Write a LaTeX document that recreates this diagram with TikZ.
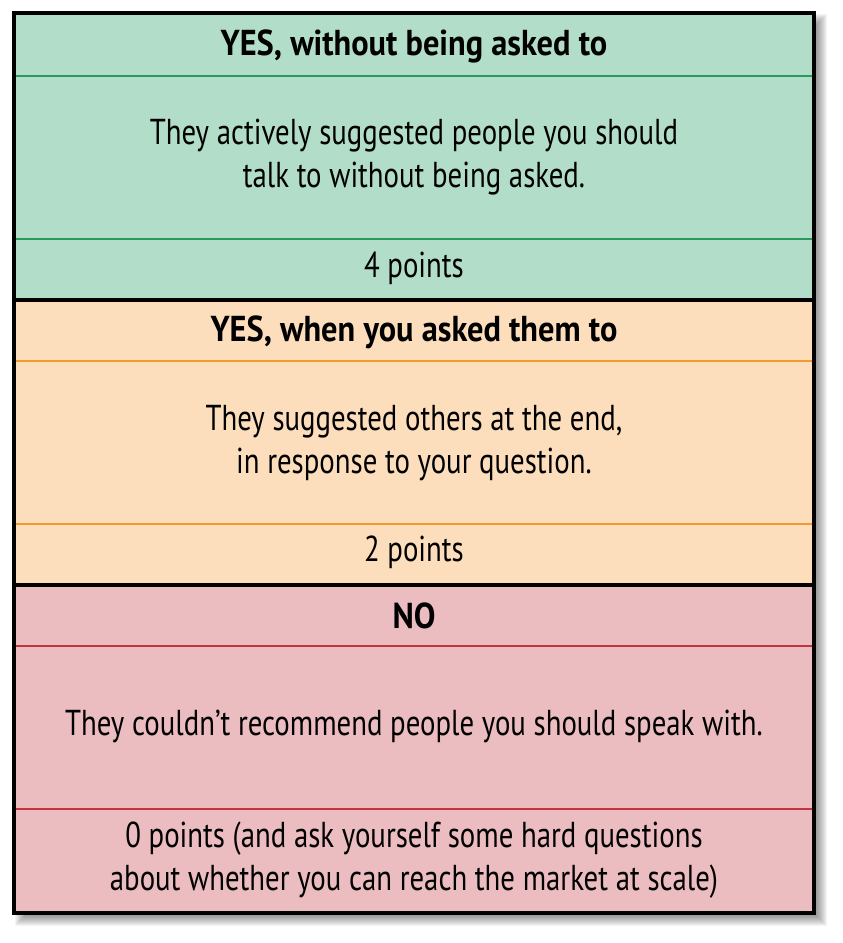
\documentclass[tikz,border=0pt]{standalone}
\usepackage{fontspec}
\setmainfont{PT Sans}[FakeStretch=0.8, BoldFeatures={FakeStretch=0.9}]
\usetikzlibrary{positioning}

\definecolor{yesfill}{HTML}{B2DEC9}
\definecolor{yesline}{HTML}{2A9A5A}
\definecolor{askfill}{HTML}{FCDEBC}
\definecolor{askline}{HTML}{F39A2E}
\definecolor{nofill}{HTML}{EBBCC0}
\definecolor{noline}{HTML}{C4343E}

\begin{document}
\begin{tikzpicture}[
  x=1pt, y=-1pt,
  head_text/.style={font=\bfseries\fontsize{36}{43}\selectfont, text=black},
  body_text/.style={font=\fontsize{36}{43}\selectfont, align=center, text=black},
  thin_rule/.style={line width=2pt},
  frame/.style={line width=4pt, draw=black}
]
  \useasboundingbox (0,0) rectangle (843,943);

  % --- sombra del marco ---
  \foreach \s in {-6,...,6}
    \fill[black, opacity=0.045] (21-\s,20-\s) rectangle (821+\s,920+\s);

  % --- fondos ---
  \fill[yesfill] (14,13) rectangle (814,300);
  \fill[askfill] (14,300) rectangle (814,585);
  \fill[nofill]  (14,585) rectangle (814,913);

  % --- lineas internas ---
  \draw[thin_rule, yesline] (14,76) -- (814,76);
  \draw[thin_rule, yesline] (14,239) -- (814,239);
  \draw[thin_rule, askline] (14,361) -- (814,361);
  \draw[thin_rule, askline] (14,524) -- (814,524);
  \draw[thin_rule, noline]  (14,646) -- (814,646);
  \draw[thin_rule, noline]  (14,809) -- (814,809);

  % --- marco y separadores ---
  \draw[frame] (14,300) -- (814,300);
  \draw[frame] (14,585) -- (814,585);
  \draw[frame] (14,13) rectangle (814,913);

  % --- YES sin pedirlo ---
  \node[head_text] (yes_head) at (414,46) {YES, without being asked to};
  \node[body_text] (yes_body) at (414,157) {They actively suggested people you should\\talk to without being asked.};
  \node[body_text] (yes_pts)  at (414,268) {4 points};

  % --- YES cuando se pidio ---
  \node[head_text] (ask_head) at (414,332) {YES, when you asked them to};
  \node[body_text] (ask_body) at (414,443) {They suggested others at the end,\\in response to your question.};
  \node[body_text] (ask_pts)  at (414,552) {2 points};

  % --- NO ---
  \node[head_text] (no_head) at (414,616) {NO};
  \node[body_text] (no_body) at (414,726) {They couldn’t recommend people you should speak with.};
  \node[body_text] (no_pts)  at (414,860) {0 points (and ask yourself some hard questions\\about whether you can reach the market at scale)};
\end{tikzpicture}
\end{document}
